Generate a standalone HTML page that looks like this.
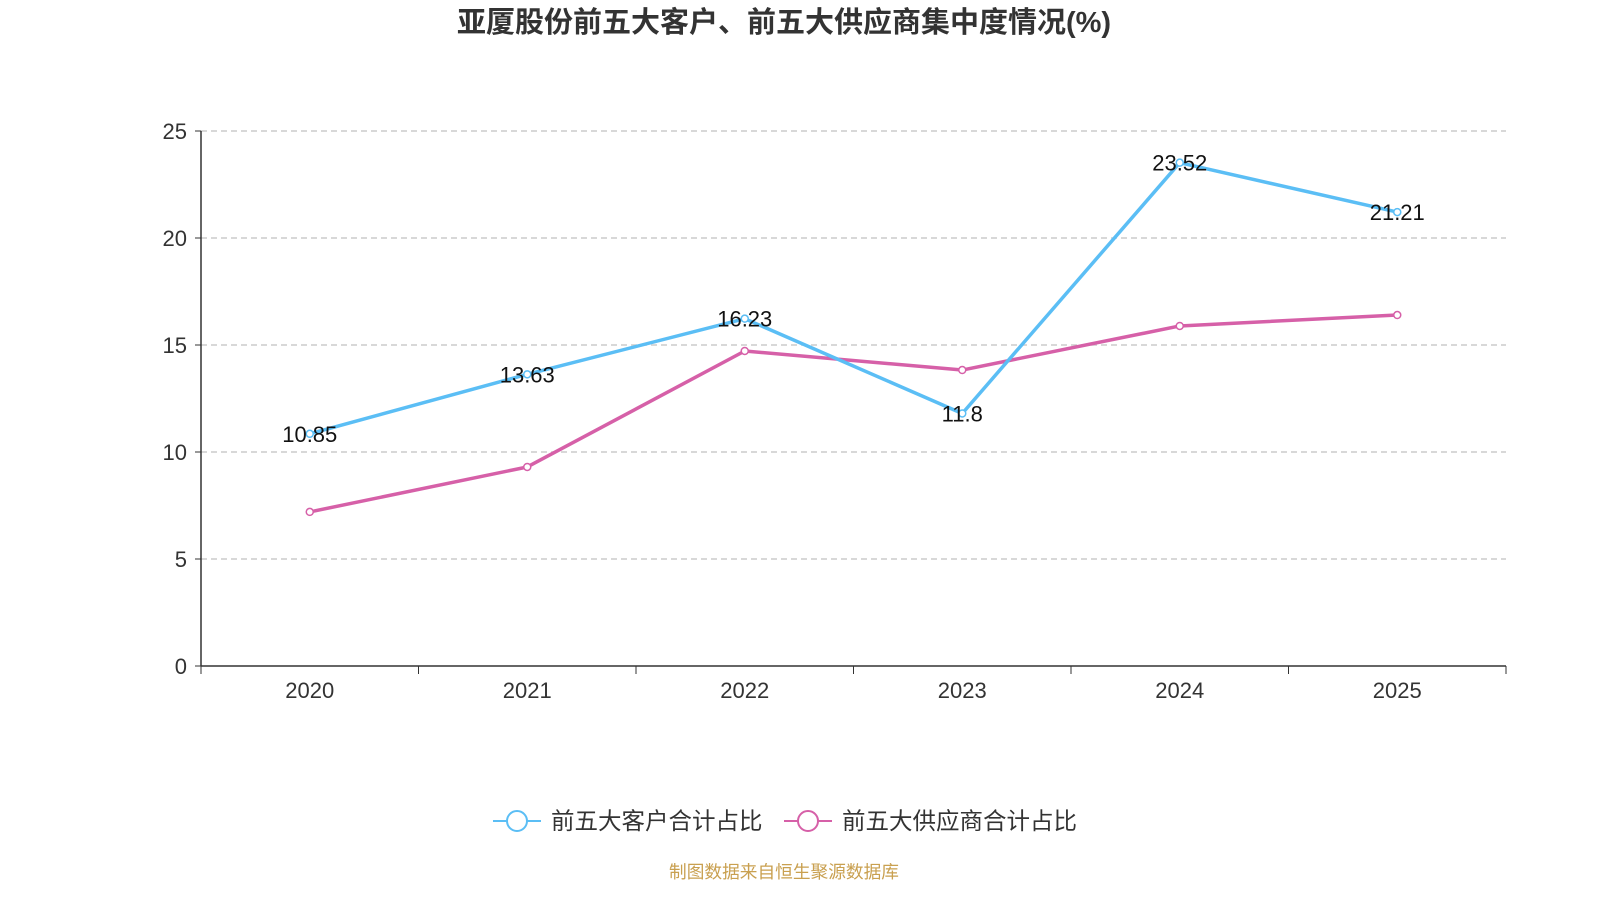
<!DOCTYPE html>
<html><head><meta charset="utf-8"><style>
body{margin:0;background:#fff;width:1600px;height:900px;overflow:hidden;font-family:"Liberation Sans","Noto Sans CJK SC",sans-serif;}
</style></head><body>
<svg id="chart" width="1600" height="900" style="font-family:'Liberation Sans','Noto Sans CJK SC',sans-serif">
<text x="784" y="32" text-anchor="middle" font-size="29" font-weight="bold" fill="#333">亚厦股份前五大客户、前五大供应商集中度情况(%)</text>
<g id="grid"></g><g id="axes"></g><g id="series"></g>
<g>
<g><line x1="493" y1="821" x2="541" y2="821" stroke="#5bbef5" stroke-width="2"/><circle cx="517" cy="821" r="10" fill="#fff" stroke="#5bbef5" stroke-width="2"/><text x="551" y="829" font-size="23.5" fill="#333">前五大客户合计占比</text></g>
<g><line x1="784" y1="821" x2="832" y2="821" stroke="#d660a8" stroke-width="2"/><circle cx="808" cy="821" r="10" fill="#fff" stroke="#d660a8" stroke-width="2"/><text x="842" y="829" font-size="23.5" fill="#333">前五大供应商合计占比</text></g>
</g>
<text x="784" y="878" text-anchor="middle" font-size="17.7" fill="#c9a050">制图数据来自恒生聚源数据库</text>
</svg>
<script>
const categories=["2020","2021","2022","2023","2024","2025"];
const customers=[10.85,13.63,16.23,11.8,23.52,21.21];
const suppliers=[7.2,9.3,14.72,13.83,15.89,16.4];
const yTicks=[0,5,10,15,20,25];
const NS="http://www.w3.org/2000/svg";
const x0=201,x1=1506,y0=666,y1=131,ymax=25;
const step=(x1-x0)/categories.length;
const X=i=>x0+step*(i+0.5);
const Y=v=>y0-(v/ymax)*(y0-y1);
function mk(t,a,p){const e=document.createElementNS(NS,t);for(const k in a)e.setAttribute(k,a[k]);p.appendChild(e);return e;}
const grid=document.getElementById('grid'),axes=document.getElementById('axes'),ser=document.getElementById('series');
yTicks.forEach(v=>{
 if(v>0){const l=mk('line',{x1:x0,x2:x1,y1:Y(v),y2:Y(v),stroke:'#ccc','stroke-dasharray':'6,4','stroke-width':1.5},grid);
 
 }
 mk('line',{x1:x0-6,x2:x0,y1:Y(v),y2:Y(v),stroke:'#333'},axes);
 const t=mk('text',{x:x0-14,y:Y(v)+8,'text-anchor':'end','font-size':22,fill:'#333'},axes);t.textContent=v;
 
 
});
const ya=mk('line',{x1:x0,x2:x0,y1:y1,y2:y0,stroke:'#333','stroke-width':1.5},axes);


const xa=mk('line',{x1:x0,x2:x1,y1:y0,y2:y0,stroke:'#333','stroke-width':1.5},axes);


for(let i=0;i<=categories.length;i++)mk('line',{x1:x0+step*i,x2:x0+step*i,y1:y0,y2:y0+8,stroke:'#333'},axes);
categories.forEach((c,i)=>{const t=mk('text',{x:X(i),y:698,'text-anchor':'middle','font-size':22,fill:'#333'},axes);t.textContent=c;
 
 });
function draw(data,color,name,labels){
 const g=mk('g',{},ser);
 
 
 mk('polyline',{points:data.map((v,i)=>X(i)+','+Y(v)).join(' '),fill:'none',stroke:color,'stroke-width':3.5,'stroke-linejoin':'round'},g);
 data.forEach((v,i)=>{const c=mk('circle',{cx:X(i),cy:Y(v),r:3.5,fill:'#fff',stroke:color,'stroke-width':1.5},g);
  
  
  if(labels){const t=mk('text',{x:X(i),y:Y(v)+8,'text-anchor':'middle','font-size':22,fill:'#111'},g);t.textContent=v;
   
   }});
}
draw(suppliers,'#d660a8','suppliers-series',false);
draw(customers,'#5bbef5','customers-series',true);
</script>
</body></html>
